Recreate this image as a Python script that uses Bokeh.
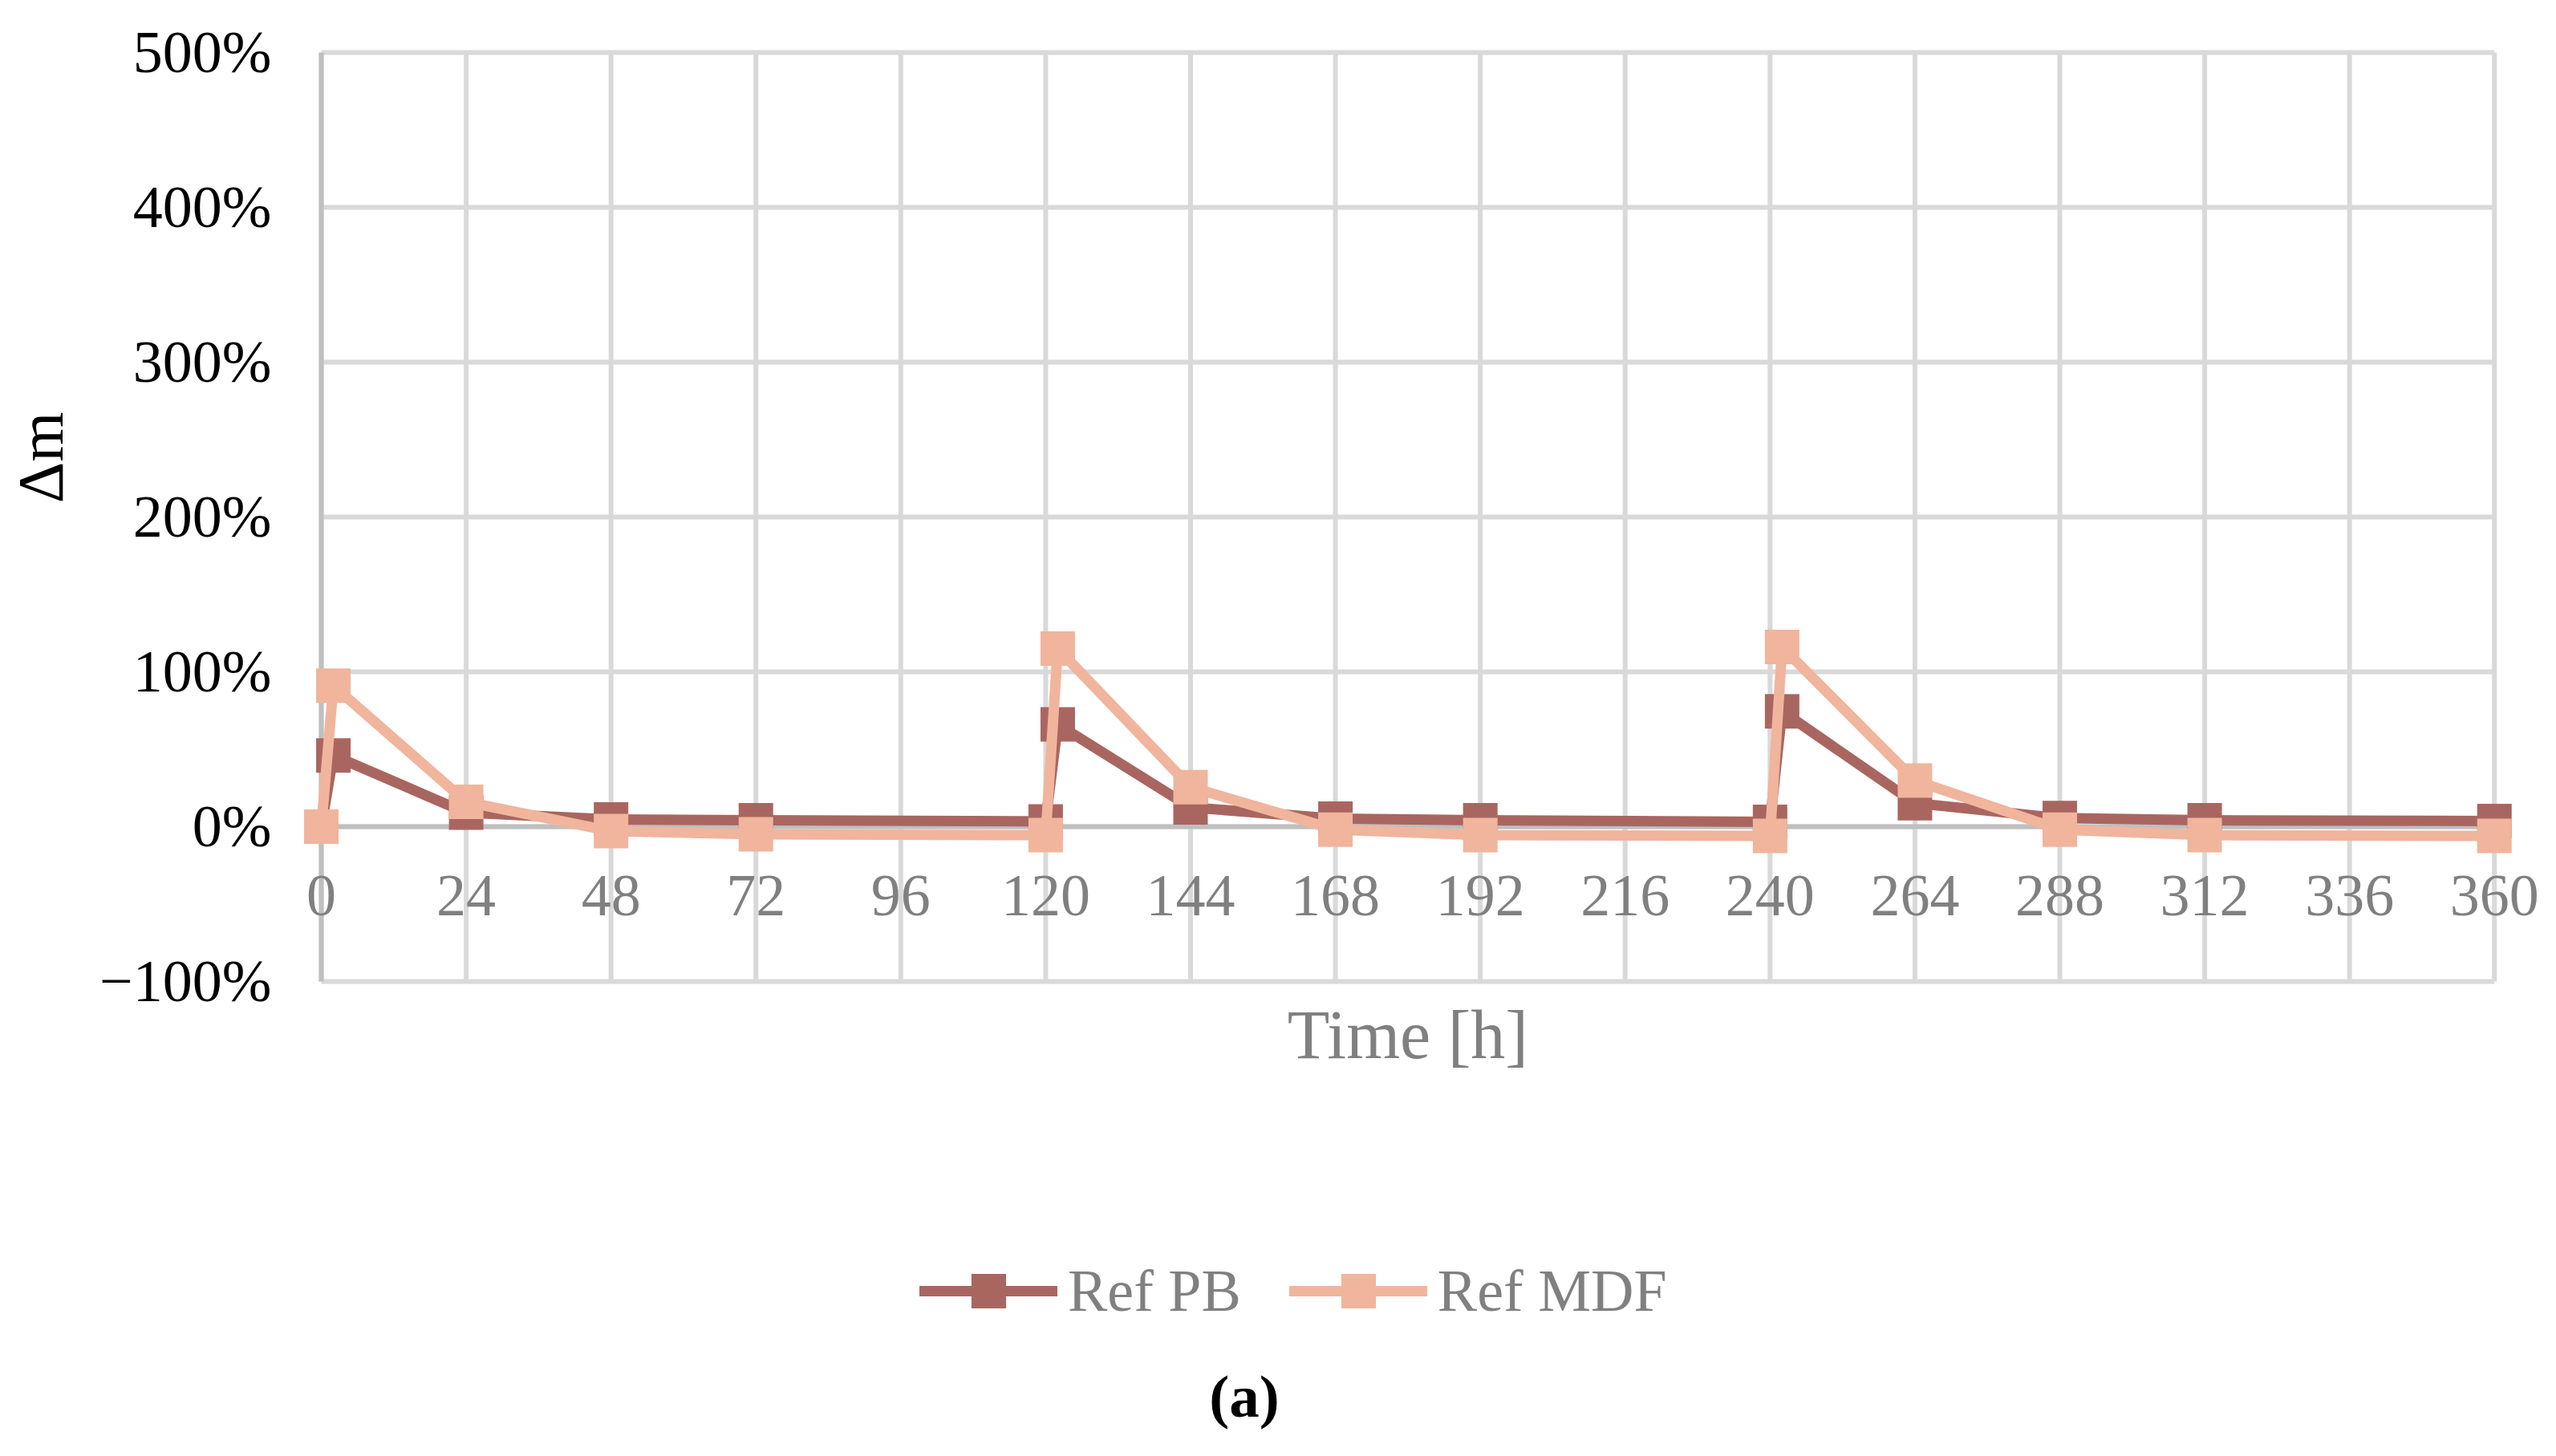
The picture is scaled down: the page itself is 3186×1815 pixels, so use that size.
import math
from bokeh.plotting import figure
from bokeh.models import Range1d, FixedTicker, Legend, Label
from bokeh.embed import file_html
from bokeh.resources import INLINE

# ---- data ----
time_h = [0, 2, 24, 48, 72, 120, 122, 144, 168, 192, 240, 242, 264, 288, 312, 360]
ref_pb = [0, 46, 9, 4.6, 4.1, 3.4, 66, 12.4, 5.2, 4.1, 3.1, 74.5, 15.2, 5.5, 4.1, 3.6]
ref_mdf = [0, 91, 16, -2.9, -5, -5.5, 115, 25.5, -1.9, -5.5, -6, 116, 29.8, -1.9, -5.5, -6]

x_ticks = list(range(0, 361, 24))
y_ticks = [-100, 0, 100, 200, 300, 400, 500]
y_tick_labels = ["\u2212100%", "0%", "100%", "200%", "300%", "400%", "500%"]

series_names = ["Ref PB", "Ref MDF"]
series_colors = ["#a96660", "#f0b59c"]

X_MIN, X_MAX = 0, 360
Y_MIN, Y_MAX = -100, 500

FONT = "Liberation Serif"
GRID = "#d9d9d9"
AXIS = "#bfbfbf"
GRAY = "#808080"

# the frame covers the whole canvas; axes cross at the data origin
p = figure(width=3170, height=1799, output_backend="svg", toolbar_location=None,
           x_range=Range1d(-53.16, 368.14), y_range=Range1d(-398.45, 533.65),
           min_border=0)
p.outline_line_color = None
p.background_fill_color = "white"
p.border_fill_color = "white"
p.grid.visible = False

# grid lines bounded to the data area
p.segment(x0=x_ticks, y0=[Y_MIN] * len(x_ticks), x1=x_ticks, y1=[Y_MAX] * len(x_ticks),
          line_color=GRID, line_width=6)
p.segment(x0=[X_MIN] * len(y_ticks), y0=y_ticks, x1=[X_MAX] * len(y_ticks), y1=y_ticks,
          line_color=GRID, line_width=6)
# axis lines (under the data)
p.segment(x0=[X_MIN, X_MIN], y0=[0, Y_MIN], x1=[X_MAX, X_MIN], y1=[0, Y_MAX],
          line_color=AXIS, line_width=6)

# x axis labels at 0 %
xa = p.xaxis[0]
xa.fixed_location = 0
xa.bounds = (X_MIN, X_MAX)
xa.ticker = FixedTicker(ticks=x_ticks)
xa.axis_line_color = None
xa.major_tick_line_color = None
xa.minor_tick_line_color = None
xa.major_tick_in = 0
xa.major_tick_out = 0
xa.major_label_standoff = 62
xa.major_label_text_font = FONT
xa.major_label_text_font_size = "74px"
xa.major_label_text_color = GRAY

ya = p.yaxis[0]
ya.fixed_location = 0
ya.bounds = (Y_MIN, Y_MAX)
ya.ticker = FixedTicker(ticks=y_ticks)
ya.major_label_overrides = {t: s for t, s in zip(y_ticks, y_tick_labels)}
ya.axis_line_color = None
ya.major_tick_line_color = None
ya.minor_tick_line_color = None
ya.major_tick_in = 0
ya.major_tick_out = 0
ya.major_label_standoff = 62
ya.major_label_text_font = FONT
ya.major_label_text_font_size = "74px"
ya.major_label_text_color = "black"

# series
items = []
for name, ys, col in zip(series_names, [ref_pb, ref_mdf], series_colors):
    r1 = p.line(time_h, ys, line_color=col, line_width=13, line_join="round", line_cap="round")
    r2 = p.scatter(time_h, ys, marker="square", size=43, fill_color=col, line_color=None)
    items.append((name, [r1, r2]))

legend = Legend(items=items, orientation="horizontal", location=(1146, 136),
                glyph_width=172, glyph_height=108, label_standoff=13, spacing=60,
                padding=0, margin=0, border_line_color=None, background_fill_alpha=0,
                label_text_font=FONT, label_text_font_size="74px", label_text_color=GRAY)
p.add_layout(legend, "center")

# axis titles and caption
ytitle = Label(x=-46.5, y=238.4, text="\u0394m", angle=math.pi / 2, text_align="center",
               text_baseline="alphabetic", text_font=FONT, text_font_size="80px",
               text_color="black")
p.add_layout(ytitle)

xtitle = Label(x=180, y=-134.3, text="Time [h]", text_align="center",
               text_baseline="alphabetic", text_font=FONT, text_font_size="86px",
               text_color=GRAY)
p.add_layout(xtitle)

cap = Label(x=152.9, y=-367.9, text="(a)", text_align="center",
            text_baseline="alphabetic", text_font=FONT, text_font_size="75px",
            text_font_style="bold", text_color="black")
p.add_layout(cap)

open("out.html", "w").write(file_html(p, INLINE))
